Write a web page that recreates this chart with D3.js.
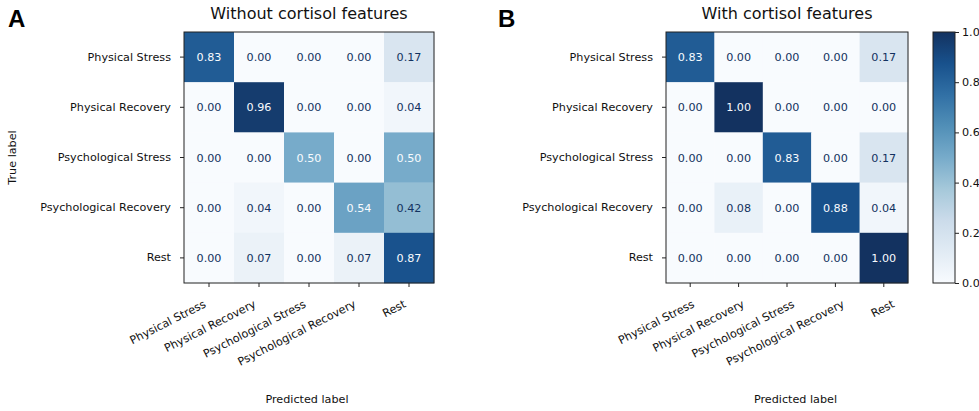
<!DOCTYPE html>
<html>
<head>
<meta charset="utf-8">
<script src="https://cdn.jsdelivr.net/npm/d3@7"></script>
<style>
  html, body { margin: 0; padding: 0; background: #fff; }
  text { font-family: "DejaVu Sans", sans-serif; }
</style>
</head>
<body>
<svg id="chart"></svg>
<script>
// classes (same for rows and columns)
const classes = ['Physical Stress', 'Physical Recovery', 'Psychological Stress', 'Psychological Recovery', 'Rest'];

// row = true label, column = predicted label
const withoutCortisol = [
    [0.83, 0.00, 0.00, 0.00, 0.17],
    [0.00, 0.96, 0.00, 0.00, 0.04],
    [0.00, 0.00, 0.50, 0.00, 0.50],
    [0.00, 0.04, 0.00, 0.54, 0.42],
    [0.00, 0.07, 0.00, 0.07, 0.87]
];
const withCortisol = [
    [0.83, 0.00, 0.00, 0.00, 0.17],
    [0.00, 1.00, 0.00, 0.00, 0.00],
    [0.00, 0.00, 0.83, 0.00, 0.17],
    [0.00, 0.08, 0.00, 0.88, 0.04],
    [0.00, 0.00, 0.00, 0.00, 1.00]
];
const titles = ['Without cortisol features', 'With cortisol features'];
const letters = ['A', 'B'];
const cbarTicks = [0, 0.2, 0.4, 0.6, 0.8, 1.0];

// matplotlib "Blues", a bit muted like the figure
const bluesStops = ['#f7fbff', '#deebf7', '#c6dbef', '#9ecae1', '#6baed6', '#4292c6', '#2171b5', '#08519c', '#08306b']
    .map(function(c) {
        const h = d3.hsl(c);
        h.s = h.s * 0.78;
        return h.formatHex();
    });

const width = 979, height = 411;
const fs = 11.2;

const svg = d3.select('#chart')
    .attr('width', width)
    .attr('height', height);

svg.append('rect').attr('width', width).attr('height', height).attr('fill', '#fff');

const color = d3.scaleLinear()
    .domain(d3.range(bluesStops.length).map(i => i / (bluesStops.length - 1)))
    .range(bluesStops)
    .interpolate(d3.interpolateRgb)
    .clamp(true);

const panels = [
    { data: withoutCortisol, x0: 184, x1: 434, lx0: 184, letterX: 8 },
    { data: withCortisol, x0: 666, x1: 908, lx0: 672.5, letterX: 498 }
];
const y0 = 32, y1 = 283;

panels.forEach(function(p, pi) {
    const g = svg.append('g');

    const x = d3.scaleBand().domain(classes).range([p.x0, p.x1]);
    const y = d3.scaleBand().domain(classes).range([y0, y1]);
    // x tick labels sit on a slightly different grid in panel B
    const xl = d3.scaleBand().domain(classes).range([p.lx0, p.lx0 + 250]);

    const flat = [];
    p.data.forEach(function(row, r) {
        row.forEach(function(v, c) {
            flat.push({ r: classes[r], c: classes[c], v: v });
        });
    });
    const thresh = (d3.max(flat, d => d.v) + d3.min(flat, d => d.v)) / 2;

    g.selectAll('rect.cell')
        .data(flat)
        .enter()
        .append('rect')
        .attr('class', 'cell')
        .attr('x', d => x(d.c))
        .attr('y', d => y(d.r))
        .attr('width', x.bandwidth() + 0.3)
        .attr('height', y.bandwidth() + 0.3)
        .attr('fill', d => color(d.v));

    g.selectAll('text.val')
        .data(flat)
        .enter()
        .append('text')
        .attr('class', 'val')
        .attr('x', d => x(d.c) + x.bandwidth() / 2)
        .attr('y', d => y(d.r) + y.bandwidth() / 2)
        .attr('dy', '0.36em')
        .attr('text-anchor', 'middle')
        .attr('font-size', fs)
        .attr('fill', d => d.v < thresh ? color(1) : color(0))
        .text(d => d.v.toFixed(2));

    // frame
    g.append('rect')
        .attr('x', p.x0).attr('y', y0)
        .attr('width', p.x1 - p.x0).attr('height', y1 - y0)
        .attr('fill', 'none')
        .attr('stroke', '#222')
        .attr('stroke-width', 1);

    // y axis
    const yAxis = g.append('g')
        .attr('transform', `translate(${p.x0}, 0)`)
        .call(d3.axisLeft(y).tickSize(4).tickPadding(9));
    yAxis.select('.domain').remove();
    yAxis.selectAll('line').attr('stroke', '#222');
    yAxis.selectAll('text')
        .attr('font-size', fs)
        .attr('font-family', '"DejaVu Sans", sans-serif')
        .attr('fill', '#111');

    // x axis (ticks only, labels rotated below)
    const xAxis = g.append('g')
        .attr('transform', `translate(0, ${y1})`)
        .call(d3.axisBottom(x).tickSize(4).tickFormat(''));
    xAxis.select('.domain').remove();
    xAxis.selectAll('line').attr('stroke', '#222');

    g.selectAll('text.xlab')
        .data(classes)
        .enter()
        .append('text')
        .attr('class', 'xlab')
        .attr('text-anchor', 'end')
        .attr('font-size', fs)
        .attr('fill', '#111')
        .attr('transform', d => `translate(${xl(d) + xl.bandwidth() / 2 - 2.3}, 306.5) rotate(-27)`)
        .text(d => d);

    // titles and labels
    g.append('text')
        .attr('x', (p.x0 + p.x1) / 2)
        .attr('y', 19)
        .attr('text-anchor', 'middle')
        .attr('font-size', 16)
        .attr('fill', '#111')
        .text(titles[pi]);

    g.append('text')
        .attr('x', p.letterX)
        .attr('y', 27)
        .attr('font-size', 24)
        .attr('font-weight', 'bold')
        .style('font-family', '"Liberation Sans", Arial, sans-serif')
        .attr('fill', '#000')
        .text(letters[pi]);

    g.append('text')
        .attr('x', p.lx0 + 123)
        .attr('y', 403)
        .attr('text-anchor', 'middle')
        .attr('font-size', fs)
        .attr('fill', '#111')
        .text('Predicted label');
});

svg.append('text')
    .attr('transform', `translate(16, ${(y0 + y1) / 2}) rotate(-90)`)
    .attr('text-anchor', 'middle')
    .attr('font-size', fs)
    .attr('fill', '#111')
    .text('True label');

// colorbar
const cbX = 933, cbW = 22;
const cbScale = d3.scaleLinear().domain([0, 1]).range([y1, y0]);

const grad = svg.append('defs').append('linearGradient')
    .attr('id', 'cbar')
    .attr('x1', 0).attr('y1', 1)
    .attr('x2', 0).attr('y2', 0);
grad.selectAll('stop')
    .data(bluesStops)
    .enter()
    .append('stop')
    .attr('offset', (d, i) => i / (bluesStops.length - 1))
    .attr('stop-color', d => d);

svg.append('rect')
    .attr('x', cbX).attr('y', y0)
    .attr('width', cbW).attr('height', y1 - y0)
    .attr('fill', 'url(#cbar)')
    .attr('stroke', '#222')
    .attr('stroke-width', 1);

const cbAxis = svg.append('g')
    .attr('transform', `translate(${cbX + cbW}, 0)`)
    .call(d3.axisRight(cbScale).tickValues(cbarTicks).tickFormat(d3.format('.1f')).tickSize(4).tickPadding(3));
cbAxis.select('.domain').remove();
cbAxis.selectAll('line').attr('stroke', '#222');
cbAxis.selectAll('text')
    .attr('font-size', fs)
    .attr('font-family', '"DejaVu Sans", sans-serif')
    .attr('fill', '#111');
</script>
</body>
</html>
